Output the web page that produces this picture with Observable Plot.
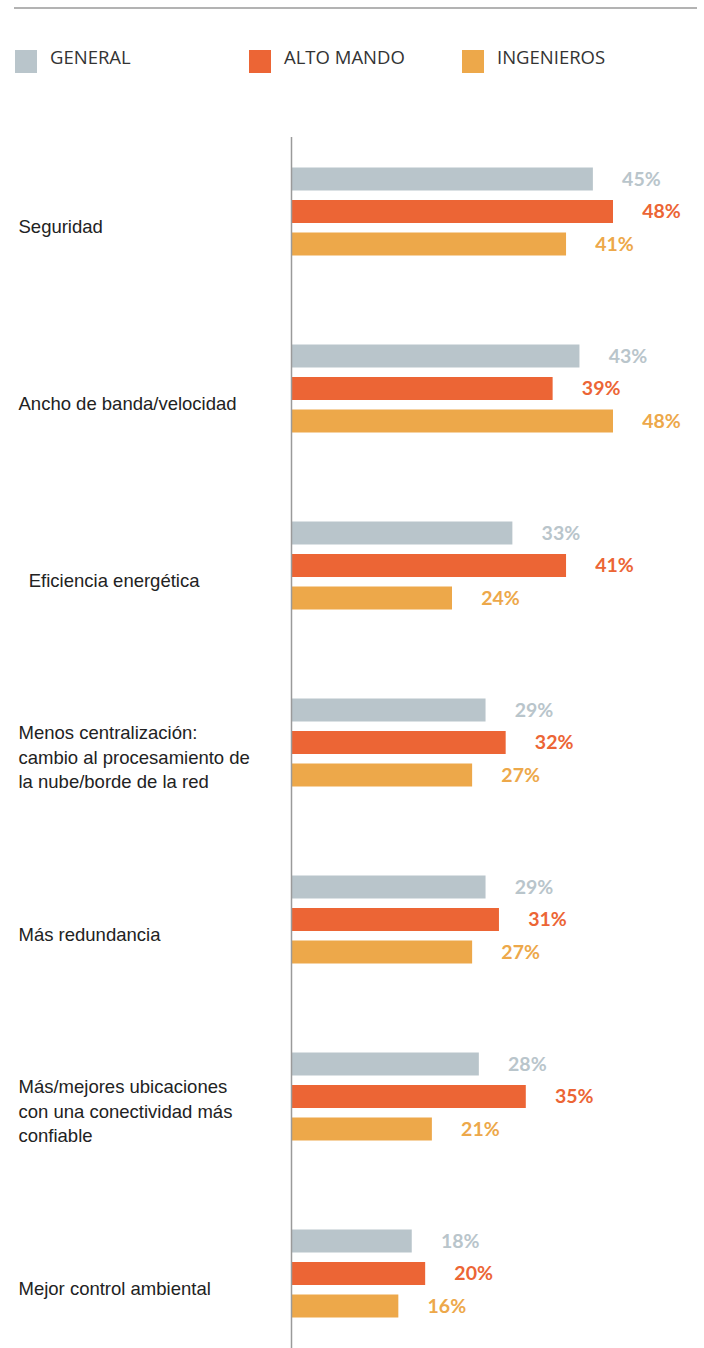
<!DOCTYPE html>
<html>
<head>
<meta charset="utf-8">
<script src="https://cdn.jsdelivr.net/npm/d3@7"></script>
<script src="https://cdn.jsdelivr.net/npm/@observablehq/plot@0.6"></script>
<style>
  html, body { margin: 0; padding: 0; background: #fff; }
  #wrap { position: relative; width: 704px; height: 1348px; overflow: hidden; }
  #topline { position: absolute; left: 14px; top: 7px; width: 683px; height: 2px; background: #b3b3b3; }
  .leg { position: absolute; top: 47px; display: flex; align-items: flex-start; font-family: "Open Sans", sans-serif; font-size: 18.5px; color: #333; }
  .leg .sw { width: 22px; height: 23px; margin-right: 13px; margin-top: 3px; }
  .leg .lb { line-height: 20px; }
  #chart { position: absolute; left: 0; top: 110px; }
</style>
</head>
<body>
<div id="wrap">
  <div id="topline"></div>
  <div id="legend"></div>
  <div id="chart"></div>
</div>
<script>
const categories = [
  "Seguridad",
  "Ancho de banda/velocidad",
  "Eficiencia energética",
  "Menos centralización: cambio al procesamiento de la nube/borde de la red",
  "Más redundancia",
  "Más/mejores ubicaciones con una conectividad más confiable",
  "Mejor control ambiental"
];
const categoryLabels = [
  "Seguridad",
  "Ancho de banda/velocidad",
  "\u00A0\u00A0Eficiencia energética",
  "Menos centralización:\ncambio al procesamiento de\nla nube/borde de la red",
  "Más redundancia",
  "Más/mejores ubicaciones\ncon una conectividad más\nconfiable",
  "Mejor control ambiental"
];
const seriesNames = ["GENERAL", "ALTO MANDO", "INGENIEROS"];
const seriesColors = ["#b9c5cb", "#ec6535", "#eda84a"];
const general    = [45, 43, 33, 29, 29, 28, 18];
const altoMando  = [48, 39, 41, 32, 31, 35, 20];
const ingenieros = [41, 48, 24, 27, 27, 21, 16];

const seriesValues = [general, altoMando, ingenieros];

// legend
const legendLeft = [15, 249, 462];
const legend = document.getElementById("legend");
seriesNames.forEach((name, i) => {
  const item = document.createElement("div");
  item.className = "leg";
  item.style.left = legendLeft[i] + "px";
  item.innerHTML = `<div class="sw" style="background:${seriesColors[i]}"></div><div class="lb">${name}</div>`;
  legend.appendChild(item);
});

const data = [];
seriesNames.forEach((s, si) => {
  categories.forEach((c, ci) => {
    data.push({category: c, series: s, value: seriesValues[si][ci]});
  });
});

const offsets = [-32.5, 0, 32.5];
const marks = [];
seriesNames.forEach((s, si) => {
  const rows = data.filter(d => d.series === s);
  marks.push(Plot.barX(rows, {
    x: "value", y: "category", fill: seriesColors[si],
    insetTop: 60, insetBottom: 60, dy: offsets[si]
  }));
  marks.push(Plot.text(rows, {
    x: "value", y: "category", text: d => d.value + "%",
    fill: seriesColors[si], dx: 48, dy: offsets[si], textAnchor: "middle",
    fontFamily: "Lato, sans-serif", fontWeight: "bold", fontSize: 19.5
  }));
});
marks.push(Plot.ruleX([0], {stroke: "#9a9a9a", strokeWidth: 1.5}));
marks.push(Plot.text(categories, {
  y: d => d, text: (d, i) => categoryLabels[i],
  frameAnchor: "left", dx: -273, dy: 13, textAnchor: "start",
  lineHeight: 1.33, fill: "#222",
  fontFamily: "'Liberation Sans', Arial, sans-serif", fontSize: 18.5
}));

const chart = Plot.plot({
  width: 704,
  height: 1238,
  marginLeft: 291,
  marginRight: 91,
  marginTop: 27,
  marginBottom: 0,
  x: {domain: [0, 48], axis: null},
  y: {domain: categories, paddingInner: 0.19, paddingOuter: 0, axis: null},
  style: {background: "transparent", overflow: "visible"},
  marks
});
document.getElementById("chart").appendChild(chart);
</script>
</body>
</html>
